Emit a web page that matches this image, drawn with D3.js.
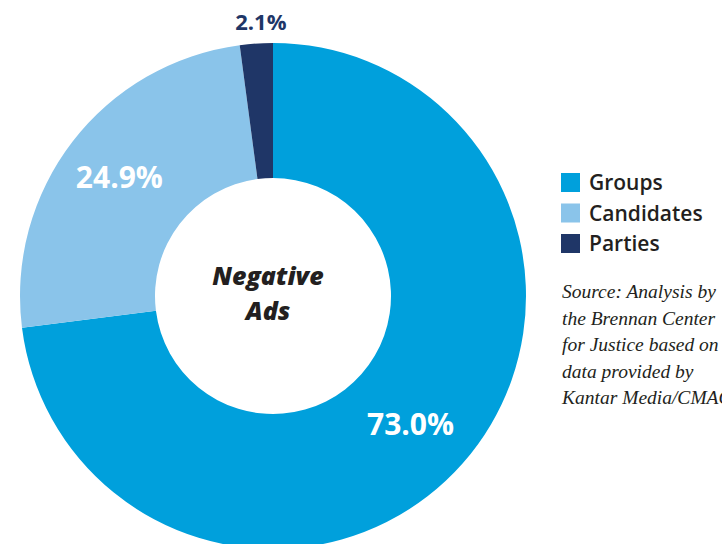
<!DOCTYPE html>
<meta charset="utf-8">
<style>
  body { margin: 0; background: #fff; }
  .label { font-family: "Open Sans", sans-serif; font-weight: 700; }
  .legend text { font-family: "Open Sans", sans-serif; font-weight: 600; font-size: 21px; fill: #231f20; }
  .source { font-family: "Liberation Serif", serif; font-style: italic; font-size: 19.5px; fill: #231f20; }
</style>

<div class="donut"></div>

<script src="https://cdn.jsdelivr.net/npm/d3@7"></script>

<script>
    var categories = ["Groups", "Candidates", "Parties"],
        shares = [73.0, 24.9, 2.1],
        colors = ["#00a0dc", "#8ac4ea", "#1f3667"],
        labelColors = ["#fff", "#fff", "#1f3667"],
        sourceLines = ["Source: Analysis by", "the Brennan Center", "for Justice based on", "data provided by", "Kantar Media/CMAG"];

    var width = 722, height = 544,
        cx = 273, cy = 296,
        outerR = 253, innerR = 118;

    var data = categories.map((c, i) => ({ name: c, value: shares[i], color: colors[i], labelColor: labelColors[i] }));

    var svg = d3.select('.donut')
        .append("svg")
        .attr("width", width)
        .attr("height", height);

    var g = svg.append("g")
        .attr("transform", "translate(" + cx + "," + cy + ")");

    var pie = d3.pie()
        .sort(null)
        .value((d) => d.value);

    var arc = d3.arc()
        .innerRadius(innerR)
        .outerRadius(outerR);

    var arcs = pie(data);

    g.selectAll('path')
        .data(arcs)
        .enter().append('path')
        .attr('d', arc)
        .attr('fill', (d) => d.data.color);

    // inside labels on a mid ring, small slice label sits outside
    var labelArc = d3.arc().innerRadius(194).outerRadius(194);
    var outsideArc = d3.arc().innerRadius(275).outerRadius(275);
    var nudge = [[-8, 0], [0, 0], [6, 0]];

    g.selectAll('.label')
        .data(arcs)
        .enter().append('text')
        .attr('class', 'label')
        .attr('transform', (d, i) => {
            var p = d.data.value < 5 ? outsideArc.centroid(d) : labelArc.centroid(d);
            return "translate(" + (p[0] + nudge[i][0]) + "," + (p[1] + nudge[i][1]) + ")";
        })
        .attr('text-anchor', 'middle')
        .attr('dy', '0.36em')
        .attr('font-size', (d) => d.data.value < 5 ? '22px' : '30px')
        .attr('fill', (d) => d.data.labelColor)
        .text((d) => d.data.value.toFixed(1) + "%");

    var center = g.append('text')
        .attr('text-anchor', 'middle')
        .attr('font-family', '"Open Sans", sans-serif')
        .attr('font-weight', 800)
        .attr('font-style', 'italic')
        .attr('font-size', '25px')
        .attr('fill', '#231f20');
    center.append('tspan').attr('x', -5).attr('y', -11).text("Negative");
    center.append('tspan').attr('x', -5).attr('y', 24).text("Ads");

    var legend = svg.append('g')
        .attr('class', 'legend')
        .attr('transform', 'translate(561,173)');

    var item = legend.selectAll('g')
        .data(data)
        .enter().append('g')
        .attr('transform', (d, i) => "translate(0," + i * 30.5 + ")");

    item.append('rect')
        .attr('width', 19)
        .attr('height', 19)
        .attr('fill', (d) => d.color);

    item.append('text')
        .attr('x', 28)
        .attr('y', 17)
        .text((d) => d.name);

    svg.append('g')
        .selectAll('text')
        .data(sourceLines)
        .enter().append('text')
        .attr('class', 'source')
        .attr('x', 562)
        .attr('y', (d, i) => 298 + i * 26.5)
        .text((d) => d);
</script>
